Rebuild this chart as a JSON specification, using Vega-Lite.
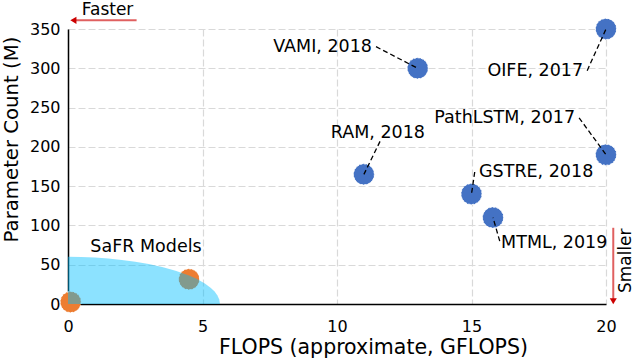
{
  "$schema": "https://vega.github.io/schema/vega-lite/v6.json",
  "width": 538,
  "height": 275,
  "autosize": {"type": "none"},
  "padding": {"left": 68, "top": 29, "right": 28, "bottom": 54},
  "background": "white",
  "config": {
    "view": {"stroke": null},
    "font": "DejaVu Sans",
    "axis": {
      "labelFont": "DejaVu Sans", "titleFont": "DejaVu Sans",
      "labelFontSize": 16, "titleFontSize": 19, "titleFontWeight": "normal",
      "labelColor": "black", "titleColor": "black",
      "domainColor": "black", "domainWidth": 1.5,
      "ticks": false, "labelOverlap": false,
      "gridColor": "#d9d9d9", "gridWidth": 1.2, "gridDash": [7, 3]
    }
  },
  "datasets": {
    "models": [
      {"name": "VAMI, 2018", "x": 13, "y": 300},
      {"name": "OIFE, 2017", "x": 20, "y": 350},
      {"name": "PathLSTM, 2017", "x": 20, "y": 190},
      {"name": "RAM, 2018", "x": 11, "y": 165},
      {"name": "GSTRE, 2018", "x": 15, "y": 140},
      {"name": "MTML, 2019", "x": 15.8, "y": 110}
    ],
    "safr": [
      {"name": "SaFR A", "x": 0.1, "y": 2.5},
      {"name": "SaFR B", "x": 4.5, "y": 31.5}
    ],
    "region": [
      {"x": 0, "y": 60}, {"x": 0.5, "y": 59.8}, {"x": 1, "y": 59.1}, {"x": 1.5, "y": 57.8},
      {"x": 2, "y": 56.1}, {"x": 2.5, "y": 53.8}, {"x": 3, "y": 50.9}, {"x": 3.5, "y": 47.1},
      {"x": 4, "y": 42.4}, {"x": 4.5, "y": 36.3}, {"x": 4.8, "y": 31.7}, {"x": 5.1, "y": 25.8},
      {"x": 5.3, "y": 20.8}, {"x": 5.45, "y": 15.8}, {"x": 5.55, "y": 11.2}, {"x": 5.62, "y": 6.2},
      {"x": 5.65, "y": 0}
    ],
    "leaders": [
      {"x": 11.45, "y": 327.5, "x2": 13, "y2": 300},
      {"x": 19.3, "y": 297, "x2": 20, "y2": 350},
      {"x": 19.0, "y": 237, "x2": 20, "y2": 190},
      {"x": 11.6, "y": 207, "x2": 11, "y2": 165},
      {"x": 15.12, "y": 168, "x2": 15, "y2": 140},
      {"x": 16.05, "y": 80, "x2": 15.8, "y2": 110}
    ],
    "labels": [
      {"text": "VAMI, 2018", "x": 11.3, "y": 327.5, "pos": "right"},
      {"text": "OIFE, 2017", "x": 19.15, "y": 296, "pos": "right"},
      {"text": "PathLSTM, 2017", "x": 18.85, "y": 237, "pos": "right"},
      {"text": "RAM, 2018", "x": 11.52, "y": 218, "pos": "center"},
      {"text": "GSTRE, 2018", "x": 15.28, "y": 168, "pos": "left"},
      {"text": "MTML, 2019", "x": 16.1, "y": 78, "pos": "left"},
      {"text": "SaFR Models", "x": 2.9, "y": 73, "pos": "center"}
    ],
    "arrows": [
      {"dir": "Faster", "x": 2.55, "y": 361, "x2": 0.2, "y2": 361},
      {"dir": "Smaller", "x": 20.27, "y": 97, "x2": 20.27, "y2": 4}
    ],
    "heads": [
      {"dir": "Faster", "x": 0.2, "y": 361, "shape": "triangle-left"},
      {"dir": "Smaller", "x": 20.27, "y": 3.5, "shape": "triangle-down"}
    ],
    "arrowText": [
      {"text": "Faster", "x": 1.47, "y": 374, "angle": 0},
      {"text": "Smaller", "x": 20.75, "y": 55, "angle": 270}
    ]
  },
  "encoding": {
    "x": {"field": "x", "type": "quantitative", "scale": {"domain": [0, 20], "nice": false},
      "axis": {"values": [0, 5, 10, 15, 20], "labelPadding": 14, "title": "FLOPS (approximate, GFLOPS)", "titleFontSize": 20.5, "titleX": 305, "titleAnchor": "middle", "titlePadding": 3, "labelFlush": false}},
    "y": {"field": "y", "type": "quantitative", "scale": {"domain": [0, 350], "nice": false},
      "axis": {"values": [0, 50, 100, 150, 200, 250, 300, 350], "labelPadding": 8, "title": "Parameter Count (M)", "titleFontSize": 19.7, "titleY": 110, "titleAnchor": "middle", "titlePadding": 8}}
  },
  "layer": [
    {
      "data": {"name": "safr"},
      "mark": {"type": "point", "filled": true, "size": 440, "color": "#ed7d31", "opacity": 1, "stroke": "white", "strokeWidth": 1, "strokeDash": [2, 1.5]}
    },
    {
      "data": {"name": "region"},
      "mark": {"type": "area", "color": "#00bfff", "opacity": 0.45}
    },
    {
      "data": {"name": "models"},
      "mark": {"type": "point", "filled": true, "size": 440, "color": "#4472c4", "opacity": 1, "stroke": "white", "strokeWidth": 1, "strokeDash": [2, 1.5]}
    },
    {
      "data": {"name": "leaders"},
      "mark": {"type": "rule", "color": "black", "strokeWidth": 1.3, "strokeDash": [5, 3]},
      "encoding": {
        "x2": {"field": "x2"},
        "y2": {"field": "y2"}
      }
    },
    {
      "data": {"name": "labels"},
      "transform": [{"filter": "datum.pos == 'right'"}],
      "mark": {"type": "text", "align": "right", "baseline": "middle", "fontSize": 17.5, "color": "black"},
      "encoding": {"text": {"field": "text"}}
    },
    {
      "data": {"name": "labels"},
      "transform": [{"filter": "datum.pos == 'left'"}],
      "mark": {"type": "text", "align": "left", "baseline": "middle", "fontSize": 17.5, "color": "black"},
      "encoding": {"text": {"field": "text"}}
    },
    {
      "data": {"name": "labels"},
      "transform": [{"filter": "datum.pos == 'center'"}],
      "mark": {"type": "text", "align": "center", "baseline": "middle", "fontSize": 17.5, "color": "black"},
      "encoding": {"text": {"field": "text"}}
    },
    {
      "data": {"name": "arrows"},
      "mark": {"type": "rule", "color": "#e06060", "strokeWidth": 2},
      "encoding": {
        "x2": {"field": "x2"},
        "y2": {"field": "y2"}
      }
    },
    {
      "data": {"name": "heads"},
      "mark": {"type": "point", "filled": true, "size": 50, "color": "#cc0000", "opacity": 1},
      "encoding": {
        "shape": {"field": "shape", "type": "nominal", "scale": null}
      }
    },
    {
      "data": {"name": "arrowText"},
      "mark": {"type": "text", "align": "center", "baseline": "middle", "fontSize": 17, "color": "black"},
      "encoding": {
        "text": {"field": "text"},
        "angle": {"field": "angle", "type": "quantitative", "scale": null}
      }
    }
  ]
}
